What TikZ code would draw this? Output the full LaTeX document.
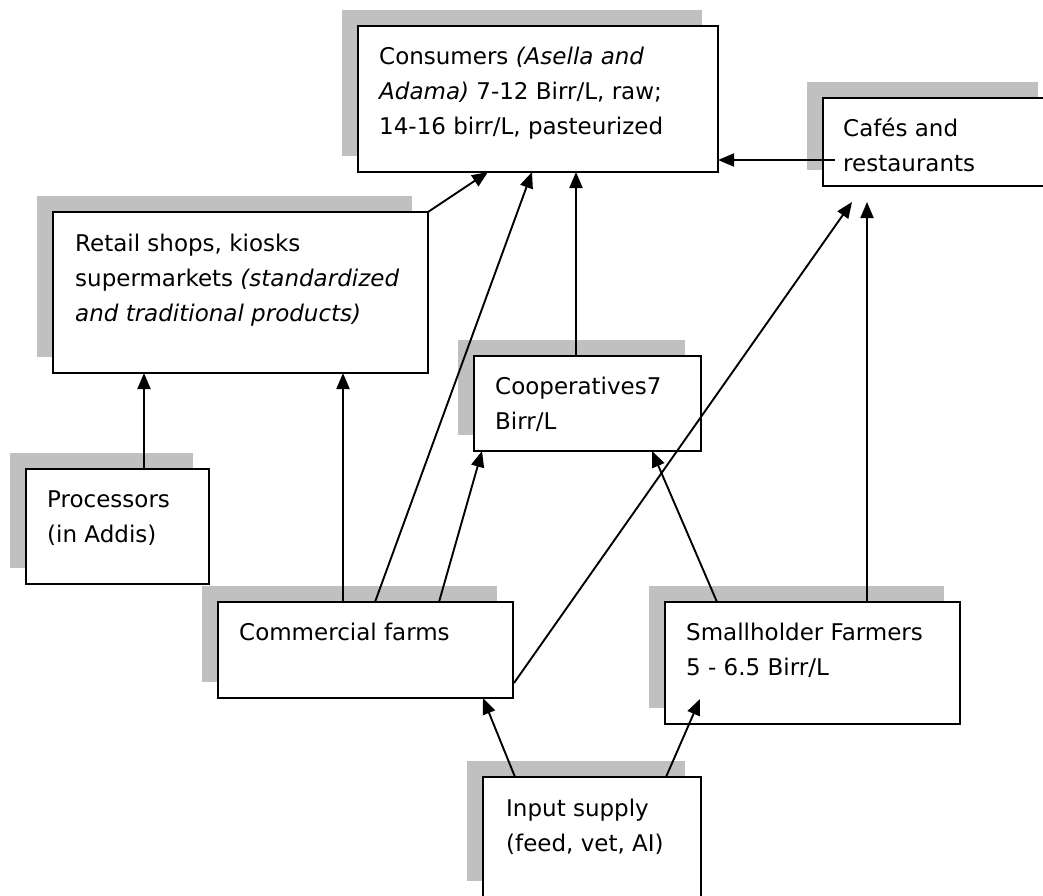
\documentclass[tikz,border=0pt]{standalone}
\usepackage{fontspec}
\setmainfont{DejaVu Sans}
\usetikzlibrary{arrows.meta,calc,shadows}
\definecolor{shadowgray}{RGB}{192,192,192}

\begin{document}
\begin{tikzpicture}[x=1pt,y=-1pt,
  box/.style={draw, line width=2pt, fill=white, inner sep=0pt, outer sep=0pt,
    anchor=north west,
    general shadow={fill=shadowgray, shadow xshift=-16pt, shadow yshift=16pt}},
  boxtext/.style={anchor=north west, inner sep=0pt, align=left,
    font=\fontsize{23}{35}\selectfont},
  link/.style={line width=1.9pt, -{Triangle[length=16pt,width=13pt]}}]

\useasboundingbox[fill=white] (0,0) rectangle (1043,895);

% boxes (top-left corner, size)
\node[box, minimum width=360pt, minimum height=146pt] (cons)   at (358,26)  {};
\node[box, minimum width=231pt, minimum height=88pt]  (cafe)   at (823,98)  {};
\node[box, minimum width=375pt, minimum height=161pt] (retail) at (53,212)  {};
\node[box, minimum width=227pt, minimum height=95pt]  (coop)   at (474,356) {};
\node[box, minimum width=183pt, minimum height=115pt] (proc)   at (26,469)  {};
\node[box, minimum width=295pt, minimum height=96pt]  (comm)   at (218,602) {};
\node[box, minimum width=295pt, minimum height=122pt] (small)  at (665,602) {};
\node[box, minimum width=218pt, minimum height=120pt] (input)  at (483,777) {};

% box texts
\node[boxtext] (consT) at ($(cons.north west)+(21,13.5)$)
  {\strut Consumers \textit{(Asella and}\\\textit{Adama)} 7-12 Birr/L, raw;\\14-16 birr/L, pasteurized};
\node[boxtext] (cafeT) at ($(cafe.north west)+(20,13.5)$)
  {\strut Cafés and\\restaurants};
\node[boxtext] (retailT) at ($(retail.north west)+(22,14.5)$)
  {\strut Retail shops, kiosks\\supermarkets \textit{(standardized}\\\textit{and traditional products)}};
\node[boxtext] (coopT) at ($(coop.north west)+(21,13.5)$)
  {\strut Cooperatives7\\Birr/L};
\node[boxtext] (procT) at ($(proc.north west)+(21,14)$)
  {\strut Processors\\(in Addis)};
\node[boxtext] (commT) at ($(comm.north west)+(21,13.5)$)
  {\strut Commercial farms};
\node[boxtext] (smallT) at ($(small.north west)+(21,13.5)$)
  {\strut Smallholder Farmers\\5 - 6.5 Birr/L};
\node[boxtext] (inputT) at ($(input.north west)+(23,15)$)
  {\strut Input supply\\(feed, vet, AI)};

% flows
\draw[link] (retail.north east) -- ($(cons.south west)+(130,0)$);
\draw[link] ($(comm.north west)+(157,0)$) -- ($(cons.south west)+(174,0)$);
\draw[link] ($(coop.north west)+(102,0)$) -- ($(cons.south west)+(218,0)$);
\draw[link] ($(cafe.north west)+(12,62)$) -- ($(cons.north east)+(0,134)$);
\draw[link] ($(proc.north west)+(118,0)$) -- ($(retail.south west)+(91,0)$);
\draw[link] ($(comm.north west)+(125,0)$) -- ($(retail.south west)+(290,0)$);
\draw[link] ($(comm.north west)+(221,0)$) -- ($(coop.south west)+(8,0)$);
\draw[link] ($(comm.north east)+(1,81)$) -- ($(cafe.south west)+(29,16)$);
\draw[link] ($(small.north west)+(52,0)$) -- ($(coop.south west)+(178,0)$);
\draw[link] ($(small.north west)+(202,0)$) -- ($(cafe.south west)+(44,16)$);
\draw[link] ($(input.north west)+(32,0)$) -- ($(comm.south west)+(265,0)$);
\draw[link] ($(input.north west)+(183,0)$) -- ($(small.south west)+(35,-25)$);
\end{tikzpicture}
\end{document}
